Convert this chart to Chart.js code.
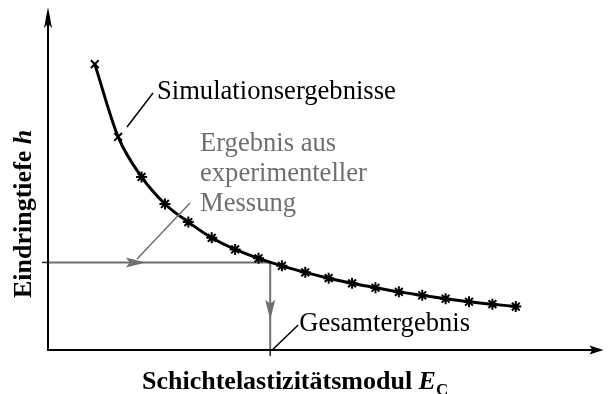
<!DOCTYPE html>
<html lang="de">
<head>
<meta charset="utf-8">
<title>Eindringtiefe über Schichtelastizitätsmodul</title>
<script src="https://cdn.jsdelivr.net/npm/chart.js@4.4.1/dist/chart.umd.min.js"></script>
<style>
    html, body { margin: 0; padding: 0; background: #ffffff; }
    #wrap { width: 611px; height: 394px; }
</style>
</head>
<body>
<div id="wrap"><canvas id="indentChart" width="611" height="394"></canvas></div>
<script>
// Simulated indentation depth h over layer modulus E_C (arbitrary units)
const modulusValues = [2, 3, 4, 5, 6, 7, 8, 9, 10, 11, 12, 13, 14, 15, 16, 17, 18, 19, 20];
const depthValues = [83.6, 62.3, 50.6, 42.7, 37.4, 32.8, 29.4, 26.8, 24.6, 22.7, 21.0, 19.5, 18.2, 17.0, 16.0, 15.0, 14.1, 13.4, 12.7];

// Measured depth and the modulus read back from the curve
const measuredDepth = 25.6;
const resultModulus = 9.5;

const axisRange = { xMin: 0, xMax: 23.75, yMin: 0, yMax: 100 };

const labels = {
    xTitle: 'Schichtelastizitätsmodul ',
    xSymbol: 'E',
    xSub: 'C',
    yTitle: 'Eindringtiefe ',
    ySymbol: 'h',
    simulation: 'Simulationsergebnisse',
    experiment: ['Ergebnis aus', 'experimenteller', 'Messung'],
    result: 'Gesamtergebnis'
};

const SERIF = '"Liberation Serif", "Times New Roman", serif';
const GREY = '#6f6f6f';

function arrowHead(ctx, tipX, tipY, dirX, dirY, len, half, color) {
    const nx = -dirY, ny = dirX;
    ctx.fillStyle = color;
    ctx.beginPath();
    ctx.moveTo(tipX, tipY);
    ctx.lineTo(tipX - dirX * len + nx * half, tipY - dirY * len + ny * half);
    ctx.lineTo(tipX - dirX * len * 0.8, tipY - dirY * len * 0.8);
    ctx.lineTo(tipX - dirX * len - nx * half, tipY - dirY * len - ny * half);
    ctx.closePath();
    ctx.fill();
}

function line(ctx, x1, y1, x2, y2, color, width) {
    ctx.strokeStyle = color;
    ctx.lineWidth = width;
    ctx.beginPath();
    ctx.moveTo(x1, y1);
    ctx.lineTo(x2, y2);
    ctx.stroke();
}

// Axes with arrows, ticks, leader lines and all labels
const sketchPlugin = {
    id: 'sketch',
    beforeDatasetsDraw(chart) {
        const { ctx, chartArea: a, scales: { x, y } } = chart;
        ctx.save();
        const mx = x.getPixelForValue(resultModulus);
        const my = y.getPixelForValue(measuredDepth);
        // ticks
        line(ctx, a.left - 6, my, a.left, my, '#222', 1.5);
        line(ctx, mx, a.bottom, mx, a.bottom + 6, '#222', 1.5);
        ctx.restore();
    },
    afterDatasetsDraw(chart) {
        const { ctx, chartArea: a, scales: { x, y } } = chart;
        ctx.save();
        ctx.lineCap = 'butt';

        // axes
        line(ctx, a.left, a.bottom, a.left, a.top + 14, '#000', 2);
        arrowHead(ctx, a.left, a.top - 1, 0, -1, 21, 4, '#000');
        line(ctx, a.left - 1, a.bottom, a.right - 10, a.bottom, '#000', 2);
        arrowHead(ctx, a.right, a.bottom, 1, 0, 14, 4.5, '#000');

        // arrowheads on the measurement guide
        const mx = x.getPixelForValue(resultModulus);
        const my = y.getPixelForValue(measuredDepth);
        const hx = a.left + (mx - a.left) * 0.44;
        arrowHead(ctx, hx, my, 1, 0, 20, 5, GREY);
        const vy = my + (a.bottom - my) * 0.655;
        arrowHead(ctx, mx, vy, 0, 1, 20, 5, GREY);

        // leader lines
        line(ctx, 127, 127, 153, 93, '#000', 1.5);
        line(ctx, 137, 259, 190, 203, GREY, 1.5);
        line(ctx, mx + 2, a.bottom, mx + 28, a.bottom - 25, '#000', 1.5);

        // annotation texts
        ctx.textAlign = 'left';
        ctx.textBaseline = 'alphabetic';
        ctx.font = '26.6px ' + SERIF;
        ctx.fillStyle = '#000';
        ctx.fillText(labels.simulation, 157, 99);
        ctx.fillText(labels.result, mx + 29, 331);
        ctx.fillStyle = GREY;
        labels.experiment.forEach((txt, i) => ctx.fillText(txt, 200, 151 + i * 30));

        // x axis title
        ctx.fillStyle = '#000';
        let tx = 142;
        ctx.font = 'bold 26px ' + SERIF;
        ctx.fillText(labels.xTitle, tx, 389);
        tx += ctx.measureText(labels.xTitle).width;
        ctx.font = 'italic bold 26px ' + SERIF;
        ctx.fillText(labels.xSymbol, tx, 389);
        tx += ctx.measureText(labels.xSymbol).width;
        ctx.font = 'bold 17px ' + SERIF;
        ctx.fillText(labels.xSub, tx, 395);

        // y axis title, rotated
        ctx.translate(31, 298);
        ctx.rotate(-Math.PI / 2);
        ctx.font = 'bold 26px ' + SERIF;
        ctx.fillText(labels.yTitle, 0, 0);
        const w = ctx.measureText(labels.yTitle).width;
        ctx.font = 'italic bold 26px ' + SERIF;
        ctx.fillText(labels.ySymbol, w, 0);

        ctx.restore();
    }
};

function initChart() {
    const ctx = document.getElementById('indentChart').getContext('2d');
    const points = modulusValues.map((e, i) => ({ x: e, y: depthValues[i] }));

    new Chart(ctx, {
        type: 'scatter',
        data: {
            datasets: [
                {
                    // measurement guide: from the depth axis to the curve, then down
                    data: [
                        { x: axisRange.xMin, y: measuredDepth },
                        { x: resultModulus, y: measuredDepth },
                        { x: resultModulus, y: axisRange.yMin }
                    ],
                    showLine: true,
                    borderColor: GREY,
                    borderWidth: 2,
                    pointRadius: 0,
                    tension: 0,
                    order: 2
                },
                {
                    data: points,
                    showLine: true,
                    borderColor: '#000',
                    borderWidth: 3,
                    cubicInterpolationMode: 'monotone',
                    pointStyle: points.map((p, i) => i < 2 ? 'crossRot' : 'star'),
                    pointRadius: 5.5,
                    pointBorderColor: '#000',
                    pointBorderWidth: 2,
                    order: 1
                }
            ]
        },
        options: {
            responsive: false,
            animation: false,
            layout: { padding: { left: 48, right: 0, top: 8, bottom: 44 } },
            scales: {
                x: { type: 'linear', min: axisRange.xMin, max: axisRange.xMax, display: false },
                y: { type: 'linear', min: axisRange.yMin, max: axisRange.yMax, display: false }
            },
            plugins: {
                legend: { display: false },
                tooltip: { enabled: false }
            }
        },
        plugins: [sketchPlugin]
    });
}

window.addEventListener('DOMContentLoaded', initChart);
</script>
</body>
</html>
